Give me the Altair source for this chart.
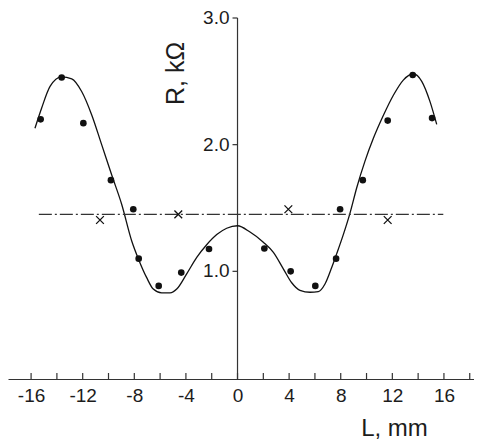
import altair as alt
import pandas as pd

# fitted curve (solid line)
curve_L = [-15.70, -15.18, -14.53, -13.63, -12.85, -12.08, -11.30, -10.53, -9.75, -8.98,
           -8.20, -7.69, -7.04, -6.53, -5.88, -5.23, -4.71, -3.94, -3.16, -2.39,
           -1.61, -0.84, 0.0, 0.97, 2.0, 2.78, 3.55, 4.2, 4.84, 5.62,
           6.26, 6.78, 7.30, 7.69, 8.20, 8.72, 9.24, 9.88, 10.53, 11.30,
           12.08, 12.85, 13.63, 14.28, 14.92, 15.44]
curve_R = [2.13, 2.29, 2.46, 2.535, 2.52, 2.42, 2.235, 2.00, 1.76, 1.53,
           1.24, 1.10, 0.95, 0.86, 0.83, 0.83, 0.86, 0.98, 1.11, 1.21,
           1.29, 1.34, 1.36, 1.31, 1.23, 1.15, 1.02, 0.91, 0.85, 0.835,
           0.84, 0.90, 1.03, 1.14, 1.29, 1.46, 1.66, 1.87, 2.05, 2.23,
           2.39, 2.51, 2.56, 2.50, 2.34, 2.16]

# measured points (filled circles)
dots_L = [-15.26, -13.63, -11.95, -9.81, -8.08, -7.66, -6.11, -4.36, -2.21,
          2.08, 4.12, 6.03, 7.64, 7.95, 9.71, 11.64, 13.58, 15.08]
dots_R = [2.20, 2.53, 2.17, 1.72, 1.49, 1.10, 0.885, 0.99, 1.176,
          1.18, 1.00, 0.885, 1.10, 1.49, 1.72, 2.19, 2.55, 2.21]

# second series (crosses)
cross_L = [-10.66, -4.59, 3.94, 11.64]
cross_R = [1.405, 1.45, 1.49, 1.405]

# dash-dot level line
level_L = [-15.4, 15.95]
level_R = [1.45, 1.45]

x_label_values = [-16, -12, -8, -4, 0, 4, 8, 12, 16]
x_tick_values = [-18, -16, -14, -12, -10, -8, -6, -4, -2, 0, 2, 4, 6, 8, 10, 12, 14, 16, 18]
y_tick_values = [1.0, 2.0, 3.0]
y_tick_labels = ["1.0", "2.0", "3.0"]

XMIN, XMAX = -17.79, 18.33
YMIN, YMAX = 0.15, 3.0
W, H = 466, 361

FONT = "Liberation Sans"
INK = "#1c1c1c"
AX = "#333333"

xs = alt.Scale(domain=[XMIN, XMAX], nice=False, zero=False)
ys = alt.Scale(domain=[YMIN, YMAX], nice=False, zero=False)

curve_df = pd.DataFrame({"L": curve_L, "R": curve_R})
dots_df = pd.DataFrame({"L": dots_L, "R": dots_R})
cross_df = pd.DataFrame({"L": cross_L, "R": cross_R})
level_df = pd.DataFrame({"L": level_L, "R": level_R})
xtick_df = pd.DataFrame({"L": x_tick_values, "R": [YMIN] * len(x_tick_values)})
ytick_df = pd.DataFrame({"L": [0.0] * len(y_tick_values), "R": y_tick_values,
                         "lab": y_tick_labels})
yline_df = pd.DataFrame({"L": [0.0], "R": [YMIN], "R1": [YMAX]})

# identical axis specs in every layer so that they merge into one
y_axis = alt.Axis(
    orient="left", domain=False, ticks=False, labels=False, grid=False,
    title="R, kΩ", titleFont=FONT, titleFontSize=25, titleFontWeight="normal",
    titleColor=INK, titleAngle=270, titleAlign="center", titleBaseline="alphabetic",
    titleX=175, titleY=55,
)

x_axis = alt.Axis(
    orient="bottom", values=x_label_values, ticks=False, labelPadding=7,
    labelExpr="'' + datum.value", labelFontSize=19, labelFont=FONT, labelColor=INK,
    domainColor=AX, domainWidth=1.2,
    title="L, mm", titleFont=FONT, titleFontSize=24, titleFontWeight="normal",
    titleColor=INK, titleAlign="center", titleBaseline="alphabetic",
    titleX=386, titleY=56, grid=False,
)

X = alt.X("L:Q", scale=xs, axis=x_axis)
Y = alt.Y("R:Q", scale=ys, axis=y_axis)

dots = alt.Chart(dots_df).mark_point(
    filled=True, color="#111", size=44, opacity=1
).encode(x=X, y=Y)

curve = alt.Chart(curve_df).mark_line(
    color="#111", strokeWidth=1.3, interpolate="monotone"
).encode(x=X, y=Y)

level = alt.Chart(level_df).mark_line(
    color=AX, strokeWidth=1.1, strokeDash=[13, 3, 2, 3]
).encode(x=X, y=Y)

crosses = alt.Chart(cross_df).mark_point(
    shape="M-1,-1L1,1M1,-1L-1,1", filled=False, stroke="#111", strokeWidth=1.3,
    size=60, opacity=1
).encode(x=X, y=Y)

# central y axis drawn through the scales at L = 0
yline = alt.Chart(yline_df).mark_rule(color=AX, strokeWidth=1.2).encode(
    x=X, y=Y, y2="R1:Q",
)

yticks = alt.Chart(ytick_df).mark_rule(color=AX, strokeWidth=1.2, x2Offset=-5).encode(
    x=X, x2="L:Q", y=Y,
)

ylabels = alt.Chart(ytick_df).mark_text(
    align="right", baseline="middle", dx=-8, font=FONT, fontSize=19, color=INK
).encode(x=X, y=Y, text="lab:N")

xticks = alt.Chart(xtick_df).mark_rule(color=AX, strokeWidth=1.2, y2Offset=-6).encode(
    x=X, y=Y, y2="R:Q",
)

chart = alt.layer(dots, yline, yticks, ylabels, xticks, curve, level, crosses).properties(
    width=W, height=H,
    autosize=alt.AutoSizeParams(type="none"),
    padding={"left": 0, "top": 10, "right": 0, "bottom": 70},
    background="white",
).configure_view(stroke=None)

chart.save("out.html", embed_options={"renderer": "svg", "actions": False})
